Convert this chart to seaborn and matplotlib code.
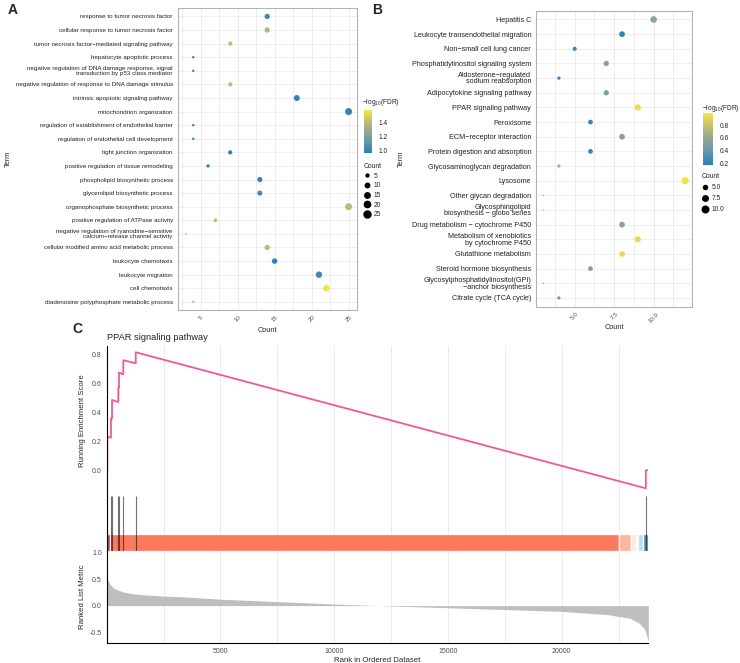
import numpy as np
import pandas as pd
import matplotlib
matplotlib.use("Agg")
import matplotlib.pyplot as plt
import seaborn as sns
from matplotlib.colors import LinearSegmentedColormap, Normalize
from matplotlib.lines import Line2D
from matplotlib.cm import ScalarMappable

# ---------------- data ----------------
terms_a = [
    "response to tumor necrosis factor",
    "cellular response to tumor necrosis factor",
    "tumor necrosis factor\u2212mediated signaling pathway",
    "hepatocyte apoptotic process",
    "negative regulation of DNA damage response, signal\ntransduction by p53 class mediator",
    "negative regulation of response to DNA damage stimulus",
    "intrinsic apoptotic signaling pathway",
    "mitochondrion organization",
    "regulation of establishment of endothelial barrier",
    "regulation of endothelial cell development",
    "tight junction organization",
    "positive regulation of tissue remodeling",
    "phospholipid biosynthetic process",
    "glycerolipid biosynthetic process",
    "organophosphate biosynthetic process",
    "positive regulation of ATPase activity",
    "negative regulation of ryanodine\u2212sensitive\ncalcium\u2212release channel activity",
    "cellular modified amino acid metabolic process",
    "leukocyte chemotaxis",
    "leukocyte migration",
    "cell chemotaxis",
    "diadenosine polyphosphate metabolic process",
]
count_a = [14, 14, 9, 4, 4, 9, 18, 25, 4, 4, 9, 6, 13, 13, 25, 7, 3, 14, 15, 21, 22, 4]
logfdr_a = [1.02, 1.38, 1.40, 0.98, 0.98, 1.40, 0.99, 0.99, 0.97, 0.97, 0.97, 0.97,
            0.98, 1.03, 1.40, 1.42, 1.00, 1.40, 0.98, 1.02, 1.58, 1.45]

terms_b = [
    "Hepatitis C",
    "Leukocyte transendothelial migration",
    "Non\u2212small cell lung cancer",
    "Phosphatidylinositol signaling system",
    "Aldosterone\u2212regulated\nsodium reabsorption",
    "Adipocytokine signaling pathway",
    "PPAR signaling pathway",
    "Peroxisome",
    "ECM\u2212receptor interaction",
    "Protein digestion and absorption",
    "Glycosaminoglycan degradation",
    "Lysosome",
    "Other glycan degradation",
    "Glycosphingolipid\nbiosynthesis \u2212 globo series",
    "Drug metabolism \u2212 cytochrome P450",
    "Metabolism of xenobiotics\nby cytochrome P450",
    "Glutathione metabolism",
    "Steroid hormone biosynthesis",
    "Glycosylphosphatidylinositol(GPI)\n\u2212anchor biosynthesis",
    "Citrate cycle (TCA cycle)",
]
count_b = [10, 8, 5, 7, 4, 7, 9, 6, 8, 6, 4, 12, 3, 3, 8, 9, 8, 6, 3, 4]
logfdr_b = [0.55, 0.20, 0.22, 0.50, 0.20, 0.50, 0.95, 0.22, 0.55, 0.22, 0.65, 0.98,
            0.40, 0.60, 0.55, 0.93, 0.93, 0.52, 0.20, 0.42]

# GSEA panel
n_genes = 23800
es_rank = [0, 26, 26, 189, 189, 233, 233, 510, 510, 540, 540, 729, 729, 1274, 1274, 23690, 23690, 23800]
es_value = [0.0, 0.0, 0.232, 0.225, 0.359, 0.357, 0.485, 0.471, 0.572, 0.571, 0.673, 0.662,
            0.759, 0.738, 0.814, -0.124, 0.0, 0.0]
hit_rank = [26, 189, 233, 510, 540, 729, 1274, 23690]
bar_start = [0, 150, 22530, 23040, 23260, 23330, 23560]
bar_end = [150, 22530, 23040, 23260, 23330, 23560, 23800]
bar_color = ["#A50F15", "#FB6A4A", "#FCAE91", "#FEE5D9", "#EFF3FF", "#BDD7E7", "#3182BD"]
metric_rank = [0, 50, 150, 300, 500, 800, 1200, 1600, 2500, 3600, 5000, 7500, 10000, 11900,
               15000, 17500, 20000, 22000, 23000, 23400, 23650, 23800]
metric_value = [0.58, 0.48, 0.40, 0.33, 0.29, 0.25, 0.22, 0.205, 0.18, 0.16, 0.12, 0.075, 0.03, 0.0,
                -0.04, -0.075, -0.11, -0.17, -0.24, -0.33, -0.45, -0.68]

# ---------------- style ----------------
sns.set_style("white")
plt.rcParams['font.family'] = ['Liberation Sans', 'DejaVu Sans']
plt.rcParams['mathtext.default'] = 'regular'

W, H = 740, 663
fig = plt.figure(figsize=(W / 100, H / 100), dpi=100)


def ax_px(l, t, r, b):
    return fig.add_axes([l / W, 1 - b / H, (r - l) / W, (b - t) / H])


cmap = LinearSegmentedColormap.from_list(
    "bluyel", [(0.0, "#2A80BE"), (0.3, "#6B99A9"), (0.55, "#9AA98F"), (0.78, "#C8C46C"), (1.0, "#F2E64A")])

GRID = "#EBEBEB"
BORDER = "#B3B3B3"


def size_pt(c, cmin, cmax, k):
    r = (c - cmin) / (cmax - cmin)
    return k * (1 + 5 * np.sqrt(r))


def dot_panel(ax, terms, counts, vals, vnorm, k, xlim, majors, minors, ylab_fs, xfmt):
    n = len(terms)
    df = pd.DataFrame({"Term": terms, "Count": counts, "logFDR": vals, "pos": np.arange(n)})
    cmin, cmax = min(counts), max(counts)
    sizes = {c: size_pt(c, cmin, cmax, k) ** 2 for c in sorted(set(counts))}
    ax.set_axisbelow(True)
    sns.scatterplot(data=df, x="Count", y="pos", hue="logFDR", palette=cmap, hue_norm=vnorm,
                    size="Count", sizes=sizes, legend=False, linewidth=0, ax=ax, zorder=3)
    ax.set_xlim(*xlim)
    ax.set_ylim(n - 1 + 0.6, -0.6)
    ax.set_yticks(np.arange(n))
    ax.set_yticklabels(terms, fontsize=ylab_fs, color="#222222", linespacing=0.85,
                       multialignment="right")
    ax.set_xticks(majors)
    ax.set_xticks(minors, minor=True)
    ax.set_xticklabels([xfmt.format(v) for v in majors], rotation=45, fontsize=4.4,
                       color="#4D4D4D", ha="center", va="top")
    ax.tick_params(axis="both", which="major", length=2, width=0.5, color="#555555", pad=1.5)
    ax.tick_params(axis="x", which="minor", length=0)
    ax.grid(True, which="both", axis="x", color=GRID, lw=0.6)
    ax.grid(True, which="major", axis="y", color=GRID, lw=0.6)
    for s in ax.spines.values():
        s.set_color(BORDER)
        s.set_linewidth(0.8)
        s.set_visible(True)


def add_colorbar(l, t, r, b, vnorm, ticks, title_xy):
    cax = ax_px(l, t, r, b)
    cb = fig.colorbar(ScalarMappable(norm=Normalize(*vnorm), cmap=cmap), cax=cax)
    cb.set_ticks(ticks)
    cb.set_ticklabels(["{:.1f}".format(t) for t in ticks])
    cb.outline.set_visible(False)
    cax.tick_params(labelsize=4.8, length=2, width=0.5, color="white", pad=2.5, labelcolor="#222222")
    fig.text(title_xy[0] / W, 1 - title_xy[1] / H, "\u2212log$_{10}$(FDR)", fontsize=4.8,
             ha="left", va="center", color="#222222")


def add_size_legend(levels, labels, cmin, cmax, k, xy, spacing):
    handles = [Line2D([], [], marker="o", linestyle="", color="black",
                      markersize=size_pt(c, cmin, cmax, k)) for c in levels]
    fig.legend(handles, labels, loc="upper left", bbox_to_anchor=(xy[0] / W, 1 - xy[1] / H),
               frameon=False, title="Count", fontsize=4.8, title_fontsize=4.9, handlelength=0.8,
               handletextpad=0.6, labelspacing=spacing, borderpad=0, borderaxespad=0,
               alignment="left")


# ---------------- panel A ----------------
axA = ax_px(177.7, 8.3, 356.7, 310)
dot_panel(axA, terms_a, count_a, logfdr_a, (0.967, 1.58), 0.84, (1.9, 26.1),
          [5, 10, 15, 20, 25], [2.5, 7.5, 12.5, 17.5, 22.5], 4.5, "{:g}")
axA.set_xlabel("Count", fontsize=5.3, labelpad=1)
axA.xaxis.set_label_coords(0.5, -0.055)
axA.set_ylabel("Term", fontsize=5.3)
axA.yaxis.set_label_coords(-0.926, 0.5)
add_colorbar(364, 110, 372, 153, (0.967, 1.58), [1.0, 1.2, 1.4], (362, 102))
add_size_legend([5, 10, 15, 20, 25], ["5", "10", "15", "20", "25"], 3, 25, 0.84, (364, 163), 0.4)

# ---------------- panel B ----------------
axB = ax_px(536, 10.7, 692.3, 306.7)
dot_panel(axB, terms_b, count_b, logfdr_b, (0.17, 0.99), 0.876, (2.55, 12.45),
          [5.0, 7.5, 10.0], [3.75, 6.25, 8.75, 11.25], 5.2, "{:.1f}")
axB.set_xlabel("Count", fontsize=5.3, labelpad=1)
axB.xaxis.set_label_coords(0.5, -0.058)
axB.set_ylabel("Term", fontsize=5.3)
axB.yaxis.set_label_coords(-0.838, 0.5)
add_colorbar(703, 113, 713, 165, (0.17, 0.99), [0.2, 0.4, 0.6, 0.8], (702, 108))
add_size_legend([5.0, 7.5, 10.0], ["5.0", "7.5", "10.0"], 3, 12, 0.876, (702, 173), 0.6)

# ---------------- panel C ----------------
L, R = 106.7, 648.3
axES = ax_px(L, 346, R, 495.7)
axHit = ax_px(L, 495.7, R, 551)
axRank = ax_px(L, 551, R, 642.7)

grid_major = [5000, 10000, 15000, 20000]
grid_minor = [2500, 7500, 12500, 17500, 22500]
for a in (axES, axHit, axRank):
    a.set_xlim(0, n_genes)
    a.set_xticks(grid_major)
    a.set_xticks(grid_minor, minor=True)
    a.set_axisbelow(True)
    a.grid(True, which="both", axis="x", color=GRID, lw=0.7)
    a.grid(False, axis="y")
    for s in ("top", "right"):
        a.spines[s].set_visible(False)
    a.spines["left"].set_color("black")
    a.spines["left"].set_linewidth(0.8)
    a.spines["bottom"].set_visible(False)
    a.tick_params(axis="x", which="both", length=0)
    a.set_facecolor("none")

es_df = pd.DataFrame({"rank": es_rank, "es": es_value})
sns.lineplot(data=es_df, x="rank", y="es", sort=False, estimator=None, color="#F2579C",
             lw=1.3, ax=axES)
axES.set_ylim(-0.175, 0.857)
axES.set_yticks([0.0, 0.2, 0.4, 0.6, 0.8])
axES.set_yticklabels(["0.0", "0.2", "0.4", "0.6", "0.8"])
axES.tick_params(axis="y", labelsize=5, labelcolor="#4D4D4D", length=2, width=0.5, pad=1.5)
axES.set_xticklabels([])
axES.set_xlabel("")
axES.set_ylabel("Running Enrichment Score", fontsize=5.6)
axES.yaxis.set_label_coords(-0.0388, 0.5)
axES.set_title("PPAR signaling pathway", fontsize=6.7, loc="left", pad=4, x=0.0)

axHit.set_ylim(0, 1)
for s, e, c in zip(bar_start, bar_end, bar_color):
    axHit.broken_barh([(s, e - s)], (0, 0.31), facecolors=c, alpha=0.9, zorder=2)
axHit.vlines(hit_rank, 0, 1, color="black", lw=0.8, alpha=0.55, zorder=3)
axHit.set_yticks([])
axHit.set_xticklabels([])

metric_df = pd.DataFrame({"rank": metric_rank, "metric": metric_value})
axRank.fill_between(metric_df["rank"], metric_df["metric"], 0, color="#BEBEBE", lw=0, zorder=2)
axRank.set_ylim(-0.70, 1.03)
axRank.set_yticks([-0.5, 0.0, 0.5, 1.0])
axRank.set_yticklabels(["-0.5", "0.0", "0.5", "1.0"])
axRank.spines["bottom"].set_visible(True)
axRank.spines["bottom"].set_color("black")
axRank.spines["bottom"].set_linewidth(0.8)
axRank.set_xticklabels(["5000", "10000", "15000", "20000"])
axRank.tick_params(axis="x", which="major", length=2, width=0.5, labelsize=5,
                   labelcolor="#4D4D4D", pad=1.5)
axRank.tick_params(axis="y", labelsize=5, labelcolor="#4D4D4D", length=2, width=0.5, pad=1.5)
axRank.set_xlabel("Rank in Ordered Dataset", fontsize=5.6, labelpad=2)
axRank.set_ylabel("Ranked List Metric", fontsize=5.6)
axRank.yaxis.set_label_coords(-0.0388, 0.5)

# panel letters
for lab, x, y in (("A", 8, 10), ("B", 372, 10), ("C", 72, 329)):
    fig.text(x / W, 1 - y / H, lab, fontsize=10, fontweight="bold", ha="left", va="center")

fig.savefig("out.png", dpi=100)
